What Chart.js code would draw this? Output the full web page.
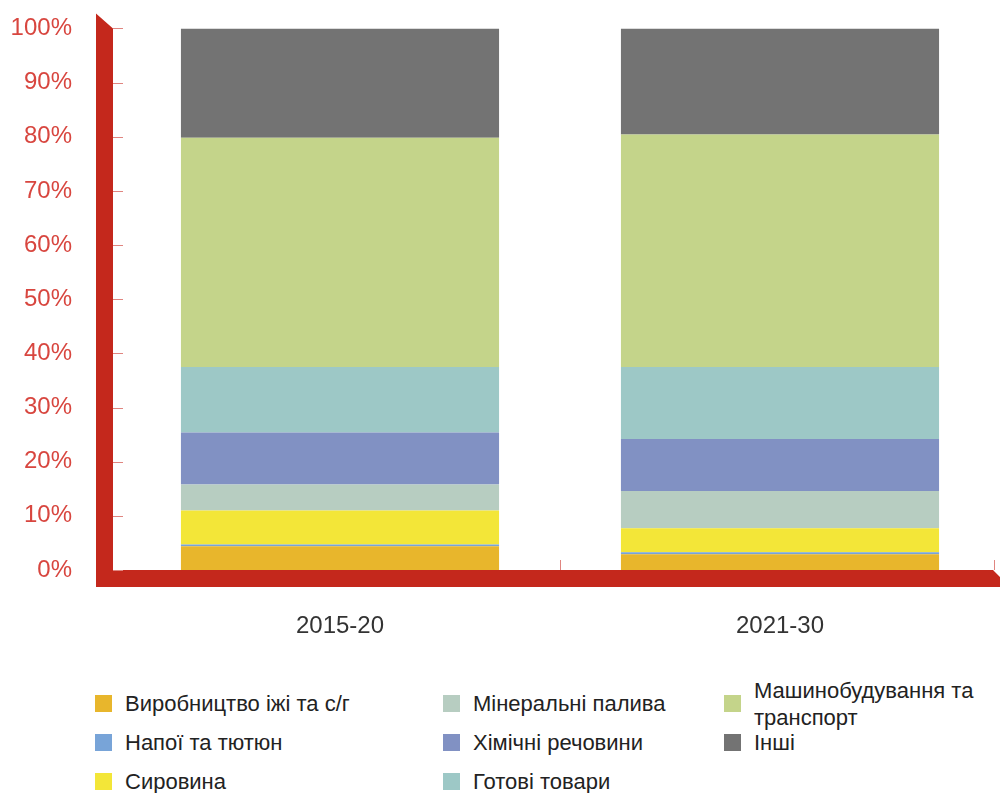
<!DOCTYPE html>
<html>
<head>
<meta charset="utf-8">
<script src="https://cdn.jsdelivr.net/npm/chart.js@4.4.1/dist/chart.umd.min.js"></script>
<style>
  body { margin: 0; background: #fff; font-family: "Liberation Sans", Arial, sans-serif; overflow: hidden; }
  #wrap { position: relative; width: 1000px; height: 793px; overflow: hidden; }
  /* canvas starts above the page: the y tick padding also pads the top of the chart */
  #box { position: absolute; left: 0; top: -34px; width: 1000px; height: 694px; }
  #legend {
    position: absolute; left: 95px; top: 684px;
    display: grid; grid-template-columns: 348px 281px 270px;
    grid-template-rows: 39px 39px 39px; grid-auto-flow: column;
  }
  .item { display: flex; align-items: center; font-size: 22px; color: #222; }
  .sw { width: 17px; height: 17px; margin-right: 13px; flex: none; }
  .txt { max-width: 235px; line-height: 27px; }
</style>
</head>
<body>
<div id="wrap">
  <div id="box"><canvas id="chart"></canvas></div>
  <div id="legend"></div>
</div>
<script>
const periods = ["2015-20", "2021-30"];
const yTicks = [0, 10, 20, 30, 40, 50, 60, 70, 80, 90, 100];

const food = [4.4, 2.9];
const drinks = [0.3, 0.4];
const rawMaterials = [6.3, 4.4];
const mineralFuels = [4.8, 6.9];
const chemicals = [9.6, 9.6];
const finishedGoods = [12.1, 13.3];
const machinery = [42.3, 42.9];
const other = [20.2, 19.6];

const seriesNames = [
  "Виробництво іжі та с/г", "Напої та тютюн", "Сировина",
  "Мінеральні палива", "Хімічні речовини", "Готові товари",
  "Машинобудування та транспорт", "Інші"
];
const seriesValues = [food, drinks, rawMaterials, mineralFuels, chemicals, finishedGoods, machinery, other];
const seriesColors = ["#e8b62c", "#78a4d8", "#f3e638", "#b7cdc1", "#8191c3", "#9dc8c6", "#c4d48a", "#737373"];

const AXIS_RED = "#c4281c";

const redAxes = {
  id: "redAxes",
  afterDatasetsDraw(chart) {
    const { ctx, chartArea: ca, scales } = chart;
    const outer = ca.left - 24, inner = ca.left - 7;
    ctx.save();
    ctx.fillStyle = AXIS_RED;
    ctx.beginPath();
    ctx.moveTo(outer, ca.bottom + 17);
    ctx.lineTo(outer, ca.top - 15);
    ctx.lineTo(inner, ca.top);
    ctx.lineTo(inner, ca.bottom);
    ctx.lineTo(ca.right - 7, ca.bottom);
    ctx.lineTo(ca.right, ca.bottom + 7);
    ctx.lineTo(ca.right, ca.bottom + 17);
    ctx.closePath();
    ctx.fill();

    ctx.strokeStyle = "#e08580";
    ctx.lineWidth = 1;
    yTicks.forEach(v => {
      const y = Math.round(scales.y.getPixelForValue(v)) + 0.5;
      ctx.beginPath();
      ctx.moveTo(inner, y);
      ctx.lineTo(inner + 10, y);
      ctx.stroke();
    });
    const x0 = scales.x.getPixelForValue(0), x1 = scales.x.getPixelForValue(1);
    [(x0 + x1) / 2, ca.right - 6].forEach(x => {
      const px = Math.round(x) + 0.5;
      ctx.beginPath();
      ctx.moveTo(px, ca.bottom);
      ctx.lineTo(px, ca.bottom - 10);
      ctx.stroke();
    });
    ctx.restore();
  }
};

new Chart(document.getElementById("chart"), {
  type: "bar",
  data: {
    labels: periods,
    datasets: seriesNames.map((name, i) => ({
      label: name,
      data: seriesValues[i],
      backgroundColor: seriesColors[i],
      borderWidth: 0,
      barPercentage: 0.723,
      categoryPercentage: 1
    }))
  },
  options: {
    responsive: true,
    maintainAspectRatio: false,
    animation: false,
    layout: { padding: 0 },
    plugins: { legend: { display: false }, tooltip: { enabled: false } },
    scales: {
      x: {
        stacked: true,
        grid: { display: false, drawTicks: false },
        border: { display: false },
        ticks: { padding: 42, color: "#333", font: { family: "Liberation Sans", size: 24 } },
        afterFit(s) { s.height = 90; }
      },
      y: {
        stacked: true,
        min: 0, max: 100,
        grid: { display: false, drawTicks: false },
        border: { display: false },
        ticks: {
          stepSize: 10, padding: 48, color: "#d8463f",
          font: { family: "Liberation Sans", size: 24 },
          callback: v => v + "%"
        },
        afterFit(s) { s.width = 120; }
      }
    }
  },
  plugins: [redAxes]
});

const legend = document.getElementById("legend");
seriesNames.forEach((name, i) => {
  const item = document.createElement("div");
  item.className = "item";
  item.innerHTML = '<span class="sw" style="background:' + seriesColors[i] + '"></span><span class="txt">' + name + '</span>';
  legend.appendChild(item);
});
</script>
</body>
</html>
